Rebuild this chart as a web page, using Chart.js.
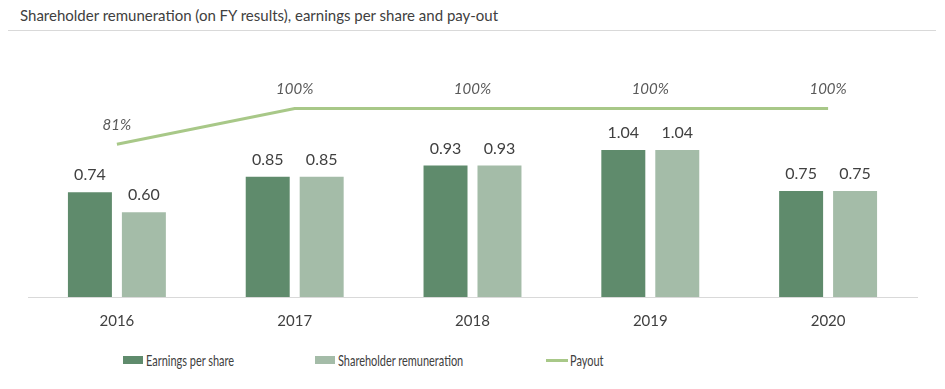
<!DOCTYPE html>
<html>
<head>
<meta charset="utf-8">
<script src="https://cdn.jsdelivr.net/npm/chart.js@4"></script>
<style>
  html, body { margin: 0; padding: 0; background: #fff; }
  #page { position: relative; width: 945px; height: 389px; overflow: hidden; }
  #title {
    position: absolute; left: 8px; top: 5px; width: 928px; height: 26px;
    border-bottom: 1px solid #d9d9d9; box-sizing: border-box;
    padding-left: 12px; font: 15px Lato, "Open Sans", sans-serif; color: #404040; line-height: 20px;
  }
  #wrap { position: absolute; left: 0; top: 0; width: 945px; height: 345px; }
  #legend { position: absolute; left: 0; top: 351px; width: 945px; height: 18px;
    font: 15px Lato, sans-serif; color: #404040; }
  .item { position: absolute; top: 0; height: 18px; line-height: 18px; white-space: nowrap; }
  .swatch { position: absolute; left: 0; }
  .item span { position: absolute; left: 23px; top: 0; transform: scaleX(0.73); transform-origin: left center; }
</style>
</head>
<body>
<div id="page">
  <div id="title">Shareholder remuneration (on FY results), earnings per share and pay-out</div>
  <div id="wrap"><canvas id="chart"></canvas></div>
  <div id="legend"></div>
</div>
<script>
// Valores
const years = ["2016", "2017", "2018", "2019", "2020"];
const eps = [0.74, 0.85, 0.93, 1.04, 0.75];
const remuneration = [0.60, 0.85, 0.93, 1.04, 0.75];
const payout = [81, 100, 100, 100, 100];

const darkGreen = "#5f8b6c";
const lightGreen = "#a4bca8";
const lineGreen = "#a8c888";

// etiquetas de valor encima de barras y línea
const valueLabels = {
  id: "valueLabels",
  afterDatasetsDraw(chart) {
    const ctx = chart.ctx;
    ctx.save();
    ctx.textAlign = "center";
    ctx.textBaseline = "middle";
    chart.data.datasets.forEach((ds, i) => {
      const meta = chart.getDatasetMeta(i);
      meta.data.forEach((el, j) => {
        if (ds.type === "line") {
          ctx.font = "italic 15px Lato, sans-serif";
          ctx.fillStyle = "#595959";
          ctx.fillText(ds.data[j] + "%", el.x, el.y - 19);
        } else {
          ctx.font = "16px Lato, sans-serif";
          ctx.fillStyle = "#404040";
          ctx.fillText(ds.data[j].toFixed(2), el.x, el.y - 17);
        }
      });
    });
    ctx.restore();
  }
};

const chart = new Chart(document.getElementById("chart"), {
  type: "bar",
  data: {
    labels: years,
    datasets: [
      {
        label: "Earnings per share",
        data: eps,
        backgroundColor: darkGreen,
        yAxisID: "y",
        order: 2
      },
      {
        label: "Shareholder remuneration",
        data: remuneration,
        backgroundColor: lightGreen,
        yAxisID: "y",
        order: 2
      },
      {
        label: "Payout",
        type: "line",
        data: payout,
        borderColor: lineGreen,
        borderWidth: 3,
        pointRadius: 0,
        tension: 0,
        fill: false,
        yAxisID: "y2",
        order: 1
      }
    ]
  },
  options: {
    responsive: true,
    maintainAspectRatio: false,
    animation: false,
    layout: { padding: { left: 28, right: 28, top: 99, bottom: 0 } },
    datasets: { bar: { categoryPercentage: 0.607, barPercentage: 0.815 } },
    plugins: {
      legend: { display: false },
      tooltip: { enabled: false }
    },
    scales: {
      x: {
        grid: { display: false, drawTicks: false },
        border: { display: true, color: "#d9d9d9", width: 1 },
        ticks: { color: "#404040", font: { size: 15, family: "Lato, sans-serif" }, padding: 15 }
      },
      y: { display: false, min: 0, max: 1.4 },
      y2: { display: false, min: 0, max: 105 }
    }
  },
  plugins: [valueLabels]
});

// leyenda en HTML
const legendPos = [123, 315, 546];
const legendEl = document.getElementById("legend");
chart.data.datasets.forEach((ds, i) => {
  const item = document.createElement("div");
  item.className = "item";
  item.style.left = legendPos[i] + "px";
  const sw = document.createElement("div");
  sw.className = "swatch";
  if (ds.type === "line") {
    sw.style.cssText = "left:0;top:8px;width:22px;height:3px;background:" + ds.borderColor;
  } else {
    sw.style.cssText = "left:0;top:5px;width:20px;height:8px;background:" + ds.backgroundColor;
  }
  const txt = document.createElement("span");
  txt.textContent = ds.label;
  if (ds.type === "line") txt.style.left = "24px";
  item.appendChild(sw);
  item.appendChild(txt);
  legendEl.appendChild(item);
});
</script>
</body>
</html>
